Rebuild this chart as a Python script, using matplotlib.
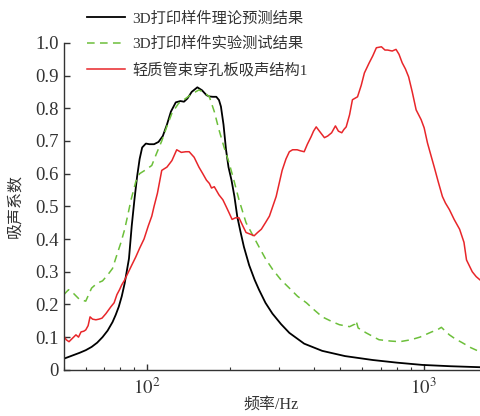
import numpy as np
import matplotlib
matplotlib.use("Agg")
import matplotlib.pyplot as plt
from matplotlib.ticker import LogLocator, FixedLocator

plt.rcParams['font.family'] = ['Liberation Serif', 'Noto Sans CJK SC']
plt.rcParams['mathtext.fontset'] = 'stix'

# theory (black)
f_theory = [50, 53, 57, 60, 63, 66, 69, 72, 75, 77, 79, 81, 83, 86, 88, 90, 92, 94, 96,
            99, 102, 106, 110, 114, 118, 122, 127, 132, 136, 140, 145, 152, 158, 164, 168,
            173, 178, 182, 185, 189, 193, 197, 202, 207, 212, 218, 224, 234, 245, 254, 268,
            284, 305, 327, 370, 430, 520, 655, 800, 990, 1250, 1600]
a_theory = [0.034, 0.042, 0.052, 0.06, 0.07, 0.083, 0.10, 0.12, 0.146, 0.168, 0.193, 0.225,
            0.265, 0.34, 0.44, 0.52, 0.59, 0.645, 0.68, 0.692, 0.69, 0.69, 0.697, 0.715,
            0.75, 0.79, 0.818, 0.822, 0.82, 0.83, 0.85, 0.864, 0.855, 0.84, 0.836, 0.835,
            0.835, 0.825, 0.805, 0.75, 0.673, 0.62, 0.58, 0.53, 0.468, 0.42, 0.376, 0.32,
            0.275, 0.245, 0.205, 0.172, 0.14, 0.113, 0.08, 0.058, 0.042, 0.03, 0.022, 0.015,
            0.011, 0.008]

# experiment (green dashed)
f_exp = [50, 52, 54, 57, 60, 63, 66, 69, 72, 75, 78, 80.5, 83, 85, 87.5, 91, 94, 99, 104,
         108, 113, 118, 123, 130, 138, 146, 154, 161, 168, 175, 182, 190, 198, 206, 215,
         228, 240, 254, 268, 284, 305, 327, 350, 377, 400, 430, 465, 496, 540, 565, 570,
         580, 620, 690, 760, 820, 900, 970, 1070, 1120, 1160, 1200, 1240, 1300, 1380,
         1480, 1600]
a_exp = [0.23, 0.245, 0.235, 0.215, 0.21, 0.25, 0.265, 0.272, 0.29, 0.31, 0.355, 0.39,
         0.43, 0.47, 0.52, 0.575, 0.60, 0.612, 0.625, 0.66, 0.70, 0.745, 0.785, 0.815, 0.83,
         0.845, 0.856, 0.848, 0.835, 0.79, 0.734, 0.68, 0.633, 0.58, 0.52, 0.45, 0.415,
         0.376, 0.34, 0.308, 0.275, 0.25, 0.225, 0.205, 0.185, 0.162, 0.148, 0.138, 0.132,
         0.14, 0.15, 0.128, 0.113, 0.092, 0.088, 0.086, 0.092, 0.10, 0.116, 0.122, 0.13,
         0.118, 0.107, 0.095, 0.083, 0.068, 0.055]

# light tube-bundle perforated plate (red)
f_red = [50, 50.3, 51, 52.2, 53.5, 55.3, 56.5, 57.7, 59, 60, 61.2, 62.2, 63.5, 65.3, 67,
         68.7, 71, 74, 76, 77.8, 79.5, 81, 83, 84.6, 88, 91, 94, 97.5, 101, 104, 106, 109,
         113, 118, 123, 128, 133, 138, 142, 148, 154, 159, 164, 168, 171, 175, 182, 188,
         193, 198, 203, 209, 215, 222, 228, 236, 244, 251, 259, 268, 277, 293, 308, 318,
         327, 336, 349, 358, 370, 380, 392, 400, 409, 420, 438, 450, 465, 480, 492, 506, 515,
         525, 540, 553, 577, 595, 611, 636, 655, 675, 704, 725, 741, 770, 795, 815, 837,
         860, 883, 910, 940, 980, 1005, 1033, 1060, 1093, 1130, 1170, 1200, 1240, 1290,
         1350, 1400, 1430, 1500, 1550, 1600]
a_red = [0.10, 0.10, 0.092, 0.086, 0.095, 0.107, 0.10, 0.116, 0.118, 0.122, 0.135, 0.162,
         0.155, 0.153, 0.155, 0.158, 0.172, 0.193, 0.205, 0.23, 0.245, 0.26, 0.275, 0.29,
         0.32, 0.345, 0.372, 0.40, 0.44, 0.47, 0.50, 0.54, 0.61, 0.62, 0.64, 0.673, 0.665,
         0.667, 0.667, 0.65, 0.62, 0.60, 0.58, 0.57, 0.556, 0.56, 0.535, 0.52, 0.5, 0.48,
         0.46, 0.465, 0.465, 0.44, 0.42, 0.415, 0.41, 0.42, 0.43, 0.45, 0.47, 0.53, 0.61,
         0.645, 0.667, 0.673, 0.673, 0.67, 0.667, 0.69, 0.713, 0.73, 0.743, 0.73, 0.71,
         0.715, 0.725, 0.746, 0.73, 0.725, 0.735, 0.743, 0.78, 0.826, 0.835, 0.87, 0.908,
         0.939, 0.96, 0.985, 0.988, 0.978, 0.978, 0.975, 0.98, 0.965, 0.939, 0.92, 0.896,
         0.85, 0.795, 0.765, 0.74, 0.694, 0.66, 0.62, 0.575, 0.53, 0.51, 0.49, 0.46, 0.43,
         0.39, 0.336, 0.30, 0.285, 0.275]

fig = plt.figure(figsize=(4.8, 4.16), dpi=100)
ax = fig.add_axes([0.133, 0.111, 0.867, 0.786])

ax.plot(f_theory, a_theory, color='black', lw=1.3, label='3D打印样件理论预测结果')
ax.plot(f_exp, a_exp, color='#6cbf3a', lw=1.1, ls=(0, (5, 3.5)), label='3D打印样件实验测试结果')
ax.plot(f_red, a_red, color='#e8262a', lw=1.1, label='轻质管束穿孔板吸声结构1')

ax.set_xscale('log')
ax.set_xlim(50, 1600)
ax.set_ylim(0, 1.0)
ax.xaxis.set_major_locator(FixedLocator([100, 1000]))
ax.xaxis.set_minor_locator(LogLocator(base=10, subs=np.arange(2, 10)))
ax.set_xticklabels([r'$10^2$', r'$10^3$'])
ax.xaxis.set_minor_formatter(plt.NullFormatter())
yt = [0, 0.1, 0.2, 0.3, 0.4, 0.5, 0.6, 0.7, 0.8, 0.9, 1.0]
ax.set_yticks(yt)
ax.set_yticklabels(['0'] + ['%.1f' % v for v in yt[1:]])

for s in ['top', 'right']:
    ax.spines[s].set_visible(False)
for s in ['left', 'bottom']:
    ax.spines[s].set_color('#333333')
    ax.spines[s].set_linewidth(1.0)
ax.tick_params(which='major', direction='in', length=4, width=1, colors='#333333',
               labelsize=13.5, labelcolor='#333333')
ax.tick_params(which='minor', direction='in', length=2.5, width=0.8, colors='#333333')
ax.tick_params(axis='x', pad=6)

fig.text(0.565, 0.027, '频率/Hz', fontsize=11.5, color='#333333', ha='center', va='center')
ax.set_ylabel('吸声系数', fontsize=11.5, color='#333333', labelpad=9)

leg = ax.legend(loc='upper left', bbox_to_anchor=(0.04, 1.115), frameon=False,
                fontsize=11, handlelength=2.5, handletextpad=0.5, labelspacing=0.75,
                borderaxespad=0)
for t in leg.get_texts():
    t.set_color('#333333')

fig.savefig('out.png', dpi=100)
